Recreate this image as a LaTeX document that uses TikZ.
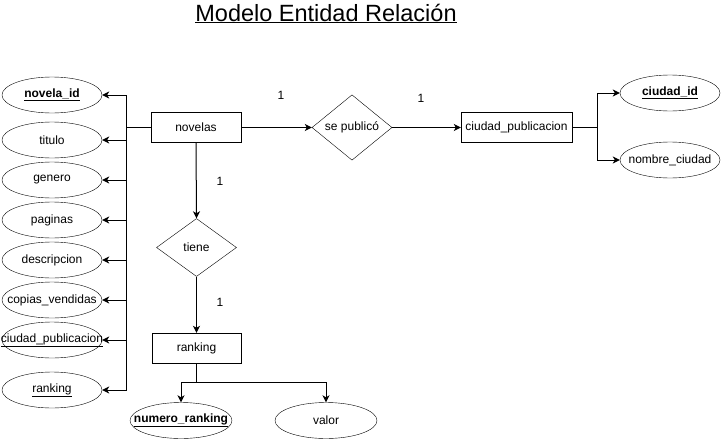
\documentclass[tikz,border=0pt]{standalone}
\usepackage{fontspec}
\setmainfont{Liberation Sans}
\usetikzlibrary{shapes.geometric,arrows.meta}
\newcommand{\zb}[1]{\makebox[0pt][c]{#1}}
\begin{document}
\begin{tikzpicture}[x=1pt,y=-1pt,
  every node/.style={font=\fontsize{12}{14}\selectfont},
  attr/.style={draw,ellipse,inner sep=0pt,minimum width=100pt,minimum height=36pt},
  ent/.style={draw,rectangle,inner sep=0pt,minimum height=30pt},
  rel/.style={draw,diamond,inner sep=0pt,minimum width=80pt,minimum height=58pt},
  arr/.style={-{Stealth[length=7pt,width=7pt,inset=2pt]},line width=1pt},
  lnk/.style={line width=1pt},
  bus/.style={line width=1.8pt},
  card/.style={inner sep=0pt}]
\useasboundingbox (0,0) rectangle (722,439);
% title
\node[anchor=base,font=\fontsize{23.5}{26}\selectfont] (title) at (326,21) {\underline{Modelo Entidad Relación}};
% entities
\node[ent,minimum width=90pt] (nov) at (196,127.5) {novelas};
\node[ent,minimum width=111pt] (cp) at (516.5,127.5) {ciudad\_publicacion};
\node[ent,minimum width=89pt] (rank) at (196.5,348) {ranking};
% relations
\node[rel] (pub) at (352,127.5) {se publicó};
\node[rel] (tiene) at (196.5,247.5) {tiene};
% left attributes
\node[attr] (a1) at (52,95) {\zb{\textbf{\underline{novela\_id}}}};
\node[attr] (a2) at (52,140) {\zb{titulo}};
\node[attr] (a3) at (52,180) {\zb{genero}};
\node[attr] (a4) at (52,220) {\zb{paginas}};
\node[attr] (a5) at (52,260) {\zb{descripcion}};
\node[attr] (a6) at (52,300) {\zb{copias\_vendidas}};
\node[attr] (a7) at (52,340) {\zb{\underline{ciudad\_publicacion}}};
\node[attr] (a8) at (52,390) {\zb{\underline{ranking}}};
% right attributes
\node[attr] (c1) at (670,93) {\zb{\textbf{\underline{ciudad\_id}}}};
\node[attr] (c2) at (670,160) {\zb{nombre\_ciudad}};
% bottom attributes
\node[attr,minimum width=102pt] (r1) at (181,420.5) {\zb{\textbf{\underline{numero\_ranking}}}};
\node[attr,minimum width=102pt] (r2) at (326,420.5) {\zb{valor}};
% cardinalities
\node[card] (k1) at (281,95) {1};
\node[card] (k2) at (421,98) {1};
\node[card] (k3) at (220,181) {1};
\node[card] (k4) at (220,302) {1};
% junction coordinates
\coordinate (lb) at (126,127.5);
\coordinate (rb) at (597,127.5);
\coordinate (bj) at (196.5,382);
% connectors
\draw[bus] (nov.west) -- (lb);
\foreach \a in {a1,a2,a3,a4,a5,a6,a7,a8}{\draw[arr] (lb) |- (\a.east);}
\draw[arr] (nov.east) -- (pub.west);
\draw[arr] (pub.east) -- (cp.west);
\draw[bus] (cp.east) -- (rb);
\draw[arr] (rb) |- (c1.west);
\draw[arr] (rb) |- (c2.west);
\draw[arr] (nov.south) -- (tiene.north);
\draw[arr] (tiene.south) -- (rank.north);
\draw[lnk] (rank.south) -- (bj);
\draw[arr] (bj) -| (r1.north);
\draw[arr] (bj) -| (r2.north);
\end{tikzpicture}
\end{document}
